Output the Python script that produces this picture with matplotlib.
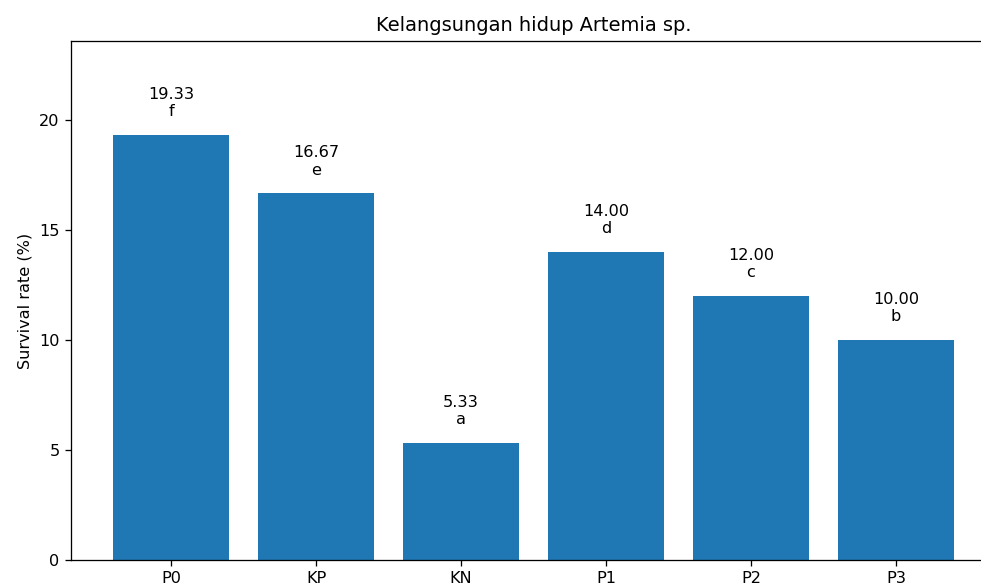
import matplotlib
matplotlib.use('Agg')
import matplotlib.pyplot as plt

# Data
groups = ['P0', 'KP', 'KN', 'P1', 'P2', 'P3']
survival = [19.33, 16.67, 5.33, 14.00, 12.00, 10.00]
letters = ['f', 'e', 'a', 'd', 'c', 'b']

DPI = 116
W, H = 982, 585
fig = plt.figure(figsize=(W / DPI, H / DPI), dpi=DPI)

# axes placed in pixel terms; the right edge runs past the figure like the reference
left, right, top, bottom = 71, 996, 41, 560
ax = fig.add_axes([left / W, (H - bottom) / H, (right - left) / W, (bottom - top) / H])

bars = ax.bar(groups, survival, color='#1f77b4', width=0.8)

for i, (val, let) in enumerate(zip(survival, letters)):
    ax.text(i, val + 0.72, f'{val:.2f}\n{let}', ha='center', va='bottom')

ax.set_ylim(0, 23.6)
ax.set_ylabel('Survival rate (%)')
ax.set_title('Kelangsungan hidup Artemia sp.')

fig.savefig('out.png', dpi=DPI)
